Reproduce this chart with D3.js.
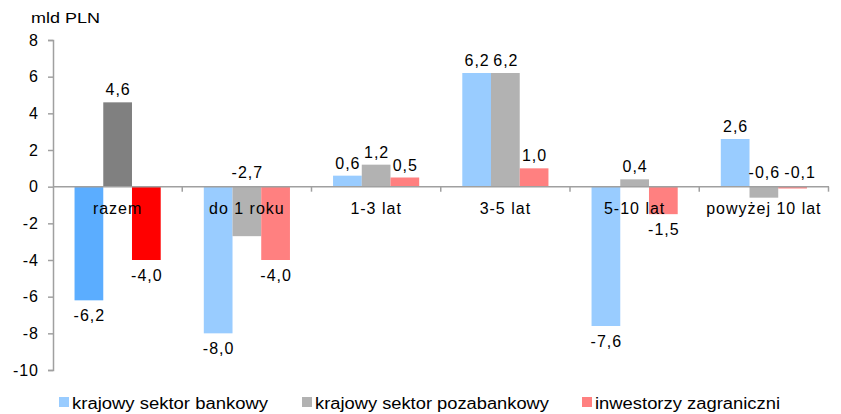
<!DOCTYPE html>
<html>
<head>
<meta charset="utf-8">
<script src="https://cdn.jsdelivr.net/npm/d3@7"></script>
<style>
  body { margin: 0; background: #fff; }
  text { font-family: "Liberation Sans", Arial, sans-serif; fill: #000; }
</style>
</head>
<body>
<div id="chart"></div>
<script>
// dane
const categories = ["razem", "do 1 roku", "1-3 lat", "3-5 lat", "5-10 lat", "powyżej 10 lat"];
const seriesNames = ["krajowy sektor bankowy", "krajowy sektor pozabankowy", "inwestorzy zagraniczni"];
const bankowy = [-6.2, -8.0, 0.6, 6.2, -7.6, 2.6];
const pozabankowy = [4.6, -2.7, 1.2, 6.2, 0.4, -0.6];
const zagraniczni = [-4.0, -4.0, 0.5, 1.0, -1.5, -0.1];
const yTicks = [-10, -8, -6, -4, -2, 0, 2, 4, 6, 8];

const width = 841, height = 414;
const margin = { top: 40, right: 12, bottom: 44, left: 53 };

const colorsFirst = ["#5badff", "#808080", "#ff0000"];
const colorsRest = ["#99ccff", "#b2b2b2", "#ff8080"];

// labels that sit above the zero line even though the value is negative
const labelAbove = [[1, 1], [5, 1], [5, 2]];
// small sideways nudge for crowded labels: [category, series, dx]
const labelNudge = [[5, 2, 7]];

const series = [bankowy, pozabankowy, zagraniczni];

const svg = d3.select("#chart")
  .append("svg")
  .attr("width", width)
  .attr("height", height);

const x = d3.scaleBand()
  .domain(categories)
  .range([margin.left, width - margin.right - 0.5]);

const barW = x.bandwidth() / 4.5;
const x1 = d3.scaleBand()
  .domain(d3.range(series.length))
  .range([0.75 * barW, 3.75 * barW]);

const y = d3.scaleLinear()
  .domain([-10, 8])
  .range([height - margin.bottom, margin.top]);

const fmt = v => d3.format(".1f")(v).replace(".", ",").replace("−", "-");

// bars
series.forEach(function (vals, s) {
  svg.append("g")
    .selectAll("rect")
    .data(vals)
    .join("rect")
    .attr("x", (d, i) => x(categories[i]) + x1(s))
    .attr("width", x1.bandwidth())
    .attr("y", d => y(Math.max(0, d)))
    .attr("height", d => Math.abs(y(d) - y(0)))
    .attr("fill", (d, i) => i === 0 ? colorsFirst[s] : colorsRest[s]);
});

// y axis
const yAxis = svg.append("g")
  .attr("transform", `translate(${margin.left},0)`)
  .call(d3.axisLeft(y).tickValues(yTicks).tickSize(5).tickPadding(9).tickFormat(d => d));
yAxis.select(".domain").attr("stroke", "#a0a0a0").attr("stroke-width", 1.5);
yAxis.selectAll(".tick line").attr("stroke", "#a0a0a0").attr("stroke-width", 1.5);
yAxis.selectAll(".tick text")
  .style("font-size", "16px")
  .style("letter-spacing", "1px")
  .style("font-family", "Liberation Sans, Arial, sans-serif")
  .attr("fill", "#000");

// x axis line at zero
svg.append("line")
  .attr("x1", margin.left)
  .attr("x2", width - margin.right)
  .attr("y1", y(0))
  .attr("y2", y(0))
  .attr("stroke", "#a0a0a0")
  .attr("stroke-width", 1.5);

svg.append("g")
  .selectAll("line")
  .data(categories)
  .join("line")
  .attr("x1", d => x(d) + x.bandwidth())
  .attr("x2", d => x(d) + x.bandwidth())
  .attr("y1", y(0))
  .attr("y2", y(0) + 5)
  .attr("stroke", "#a0a0a0")
  .attr("stroke-width", 1.5);

// category labels
svg.append("g")
  .selectAll("text")
  .data(categories)
  .join("text")
  .attr("x", d => x(d) + x.bandwidth() / 2)
  .attr("y", y(0) + 27)
  .attr("text-anchor", "middle")
  .style("font-size", "16px")
  .style("letter-spacing", "1px")
  .text(d => d);

// value labels
series.forEach(function (vals, s) {
  svg.append("g")
    .selectAll("text")
    .data(vals)
    .join("text")
    .attr("x", function (d, i) {
      const n = labelNudge.find(p => p[0] === i && p[1] === s);
      return x(categories[i]) + x1(s) + x1.bandwidth() / 2 + 0.5 + (n ? n[2] : 0);
    })
    .attr("y", function (d, i) {
      const above = labelAbove.some(p => p[0] === i && p[1] === s);
      if (above) return y(0) - 9;
      return d >= 0 ? y(d) - 7 : y(d) + 20.5;
    })
    .attr("text-anchor", "middle")
    .style("font-size", "16px")
    .style("letter-spacing", "1px")
    .text(d => fmt(d));
});

// unit
svg.append("text")
  .attr("x", 31)
  .attr("y", 22.5)
  .attr("textLength", 69)
  .attr("lengthAdjust", "spacingAndGlyphs")
  .style("font-size", "14px")
  .text("mld PLN");

// legend
const legendX = [59, 302, 582];
const legendLen = [196, 234, 185];
const legend = svg.append("g")
  .selectAll("g")
  .data(seriesNames)
  .join("g")
  .attr("transform", (d, i) => `translate(${legendX[i]},409)`);
legend.append("rect")
  .attr("x", 0)
  .attr("y", -12)
  .attr("width", 10)
  .attr("height", 10)
  .attr("fill", (d, i) => colorsRest[i]);
legend.append("text")
  .attr("x", 13)
  .attr("y", 0)
  .attr("textLength", (d, i) => legendLen[i])
  .attr("lengthAdjust", "spacingAndGlyphs")
  .style("font-size", "16px")
  .text(d => d);
</script>
</body>
</html>
